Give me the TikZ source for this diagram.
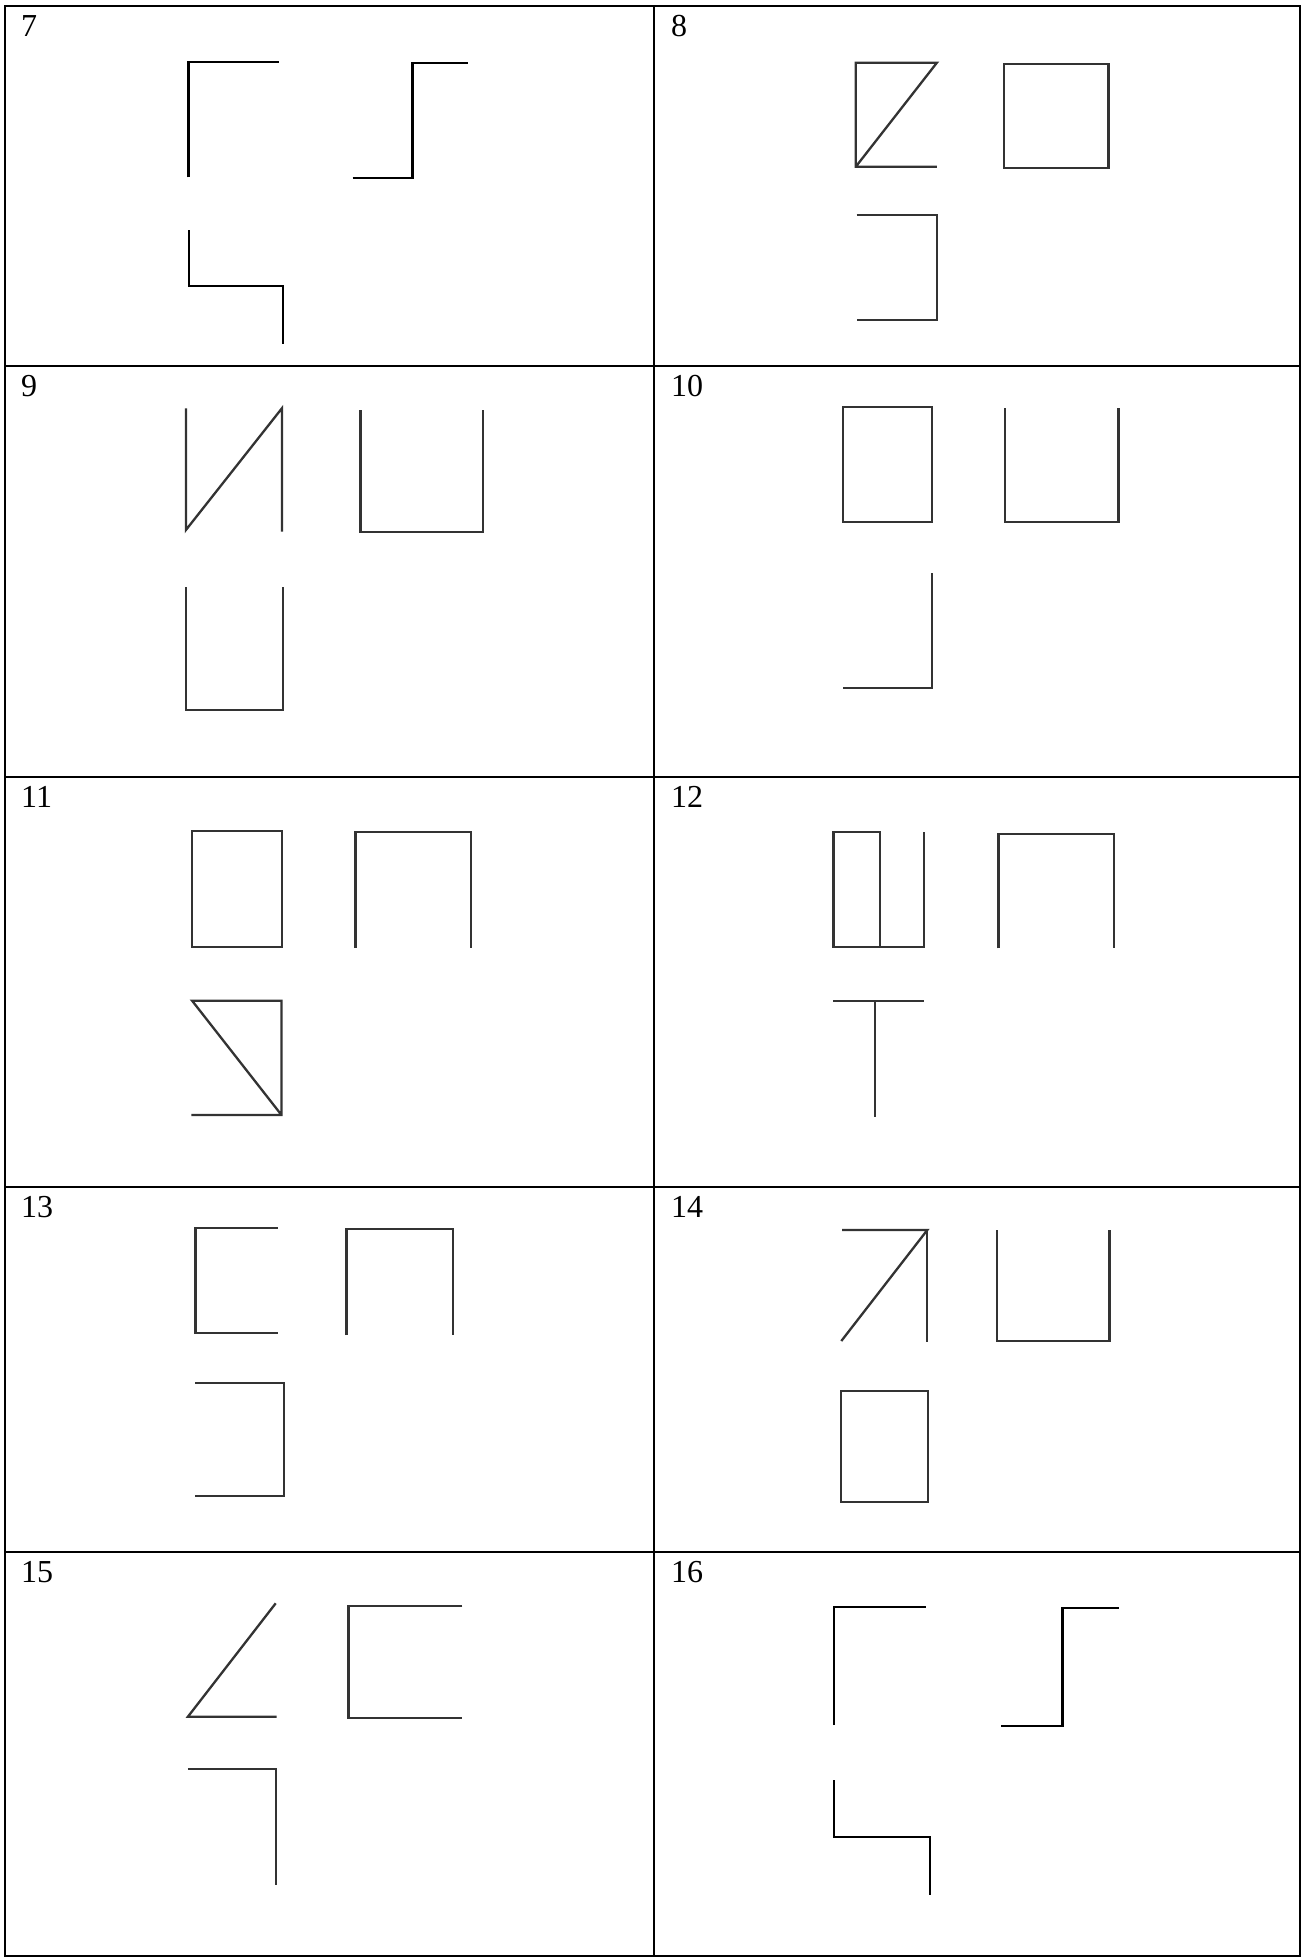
\documentclass[tikz,border=0pt]{standalone}
\usepackage{fontspec}
\setmainfont{Liberation Serif}
\begin{document}
\begin{tikzpicture}[x=1pt,y=-1pt,
  gridline/.style={line width=2.6pt,draw=black},
  fig/.style={line width=2.3pt,line cap=butt,line join=miter,draw=black!80},
  lbl/.style={anchor=base west,inner sep=0pt,font=\fontsize{32}{32}\selectfont}]
\useasboundingbox (0,0) rectangle (1303,1959);
\fill[white] (0,0) rectangle (1303,1959);
% table grid
\draw[gridline] (5,6) rectangle (1300,1956);
\draw[gridline] (654,6) -- (654,1956);
\foreach \yy in {366,777,1187,1552} \draw[gridline] (5,\yy) -- (1300,\yy);
% labels
\node[lbl] (n7)  at (21,37)   {7};
\node[lbl] (n8)  at (671,37)  {8};
\node[lbl] (n9)  at (21,396)  {9};
\node[lbl] (n10) at (671,396) {10};
\node[lbl] (n11) at (21,807)  {11};
\node[lbl] (n12) at (671,807) {12};
\node[lbl] (n13) at (21,1217) {13};
\node[lbl] (n14) at (671,1217){14};
\node[lbl] (n15) at (21,1582) {15};
\node[lbl] (n16) at (671,1582){16};
% cell 7
\draw[fig,draw=black] (188.4,177.3) -- (188.4,61.7) -- (278.6,61.7);
\draw[fig,draw=black] (352.6,178.3) -- (412.5,178.3) -- (412.5,62.7) -- (467.8,62.7);
\draw[fig,draw=black] (189.2,230) -- (189.2,286) -- (282.7,286) -- (282.7,344);
% cell 8
\draw[fig] (936.9,166.7) -- (855.8,166.7) -- (855.8,62.7) -- (936.9,62.7) -- (855.8,166.7);
\draw[fig] (1004.3,64.3) rectangle (1108.6,168.3);
\draw[fig] (856.7,215) -- (936.9,215) -- (936.9,320) -- (856.7,320);
% cell 9
\draw[fig] (185.9,408.3) -- (185.9,530) -- (281.9,408.3) -- (281.9,531.7);
\draw[fig] (360.5,410) -- (360.5,532.3) -- (483.2,532.3) -- (483.2,410);
\draw[fig] (185.9,587.3) -- (185.9,710) -- (282.7,710) -- (282.7,587.3);
% cell 10
\draw[fig] (843.3,406.7) rectangle (931.9,522.3);
\draw[fig] (1004.7,408.3) -- (1004.7,522.3) -- (1118.6,522.3) -- (1118.6,408.3);
\draw[fig] (931.9,573.3) -- (931.9,688.3) -- (843.3,688.3);
% cell 11
\draw[fig] (191.7,830.7) rectangle (281.9,946.7);
\draw[fig] (355.5,947.7) -- (355.5,832.3) -- (470.7,832.3) -- (470.7,947.7);
\draw[fig] (281.5,1115) -- (192.1,1000.7) -- (281.5,1000.7) -- (281.5,1115) -- (191.3,1115);
% cell 12
\draw[fig] (833.4,832.3) rectangle (879.9,946.7);
\draw[fig] (879.9,946.7) -- (924,946.7) -- (924,832.3);
\draw[fig] (998.4,948.3) -- (998.4,834) -- (1114,834) -- (1114,948.3);
\draw[fig] (833.4,1001) -- (924.4,1001);
\draw[fig] (875,1001) -- (875,1116.7);
% cell 13
\draw[fig] (277.8,1228.3) -- (195.4,1228.3) -- (195.4,1333.3) -- (277.8,1333.3);
\draw[fig] (346.4,1335) -- (346.4,1229) -- (453.2,1229) -- (453.2,1335);
\draw[fig] (195.4,1382.7) -- (284,1382.7) -- (284,1495.7) -- (195.4,1495.7);
% cell 14
\draw[fig] (842.1,1230) -- (927.3,1230) -- (841.3,1341);
\draw[fig] (927.3,1230) -- (927.3,1341.7);
\draw[fig] (997.2,1230) -- (997.2,1341) -- (1109.5,1341) -- (1109.5,1230);
\draw[fig] (841.3,1390.7) rectangle (927.8,1501.7);
% cell 15
\draw[fig] (275.7,1603.3) -- (187.9,1716.7) -- (276.5,1716.7);
\draw[fig] (462.4,1605.7) -- (348.4,1605.7) -- (348.4,1718.3) -- (462.4,1718.3);
\draw[fig] (187.9,1769.3) -- (275.7,1769.3) -- (275.7,1885);
% cell 16
\draw[fig,draw=black] (834.2,1725) -- (834.2,1607.3) -- (926.1,1607.3);
\draw[fig,draw=black] (1001.3,1726) -- (1062.5,1726) -- (1062.5,1608.3) -- (1119,1608.3);
\draw[fig,draw=black] (834.2,1780) -- (834.2,1836.7) -- (929.8,1836.7) -- (929.8,1895);
\end{tikzpicture}
\end{document}
